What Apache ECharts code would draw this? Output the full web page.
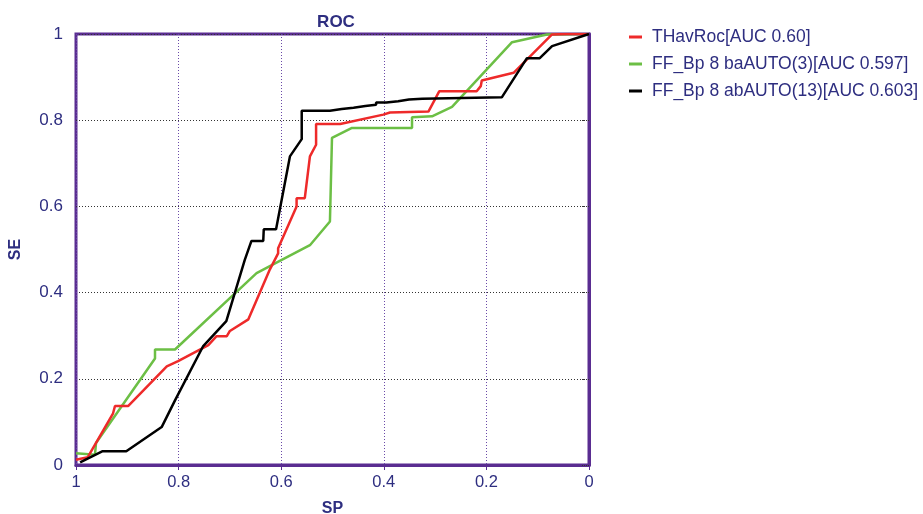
<!DOCTYPE html>
<html><head><meta charset="utf-8">
<script src="https://cdn.jsdelivr.net/npm/echarts@6/dist/echarts.min.js"></script>
<style>html,body{margin:0;padding:0;background:#fff}#c{width:923px;height:514px}</style>
</head><body><div id="c"></div>
<script>
const seriesNames = ["THavRoc[AUC 0.60]", "FF_Bp 8 baAUTO(3)[AUC 0.597]", "FF_Bp 8 abAUTO(13)[AUC 0.603]"];
const xTicks = [0, 0.2, 0.4, 0.6, 0.8, 1];
const yTicks = [0, 0.2, 0.4, 0.6, 0.8, 1];
// [SP, SE]
const redSP = [1.0,0.977,0.928,0.924,0.898,0.823,0.801,0.742,0.726,0.706,0.700,0.664,0.622,0.606,0.606,0.570,0.570,0.554,0.544,0.532,0.532,0.485,0.401,0.388,0.313,0.292,0.219,0.211,0.209,0.147,0.072,0.043,0.0];
const redSE = [0.012,0.018,0.119,0.137,0.137,0.229,0.241,0.278,0.299,0.299,0.311,0.338,0.454,0.491,0.503,0.600,0.619,0.619,0.716,0.743,0.791,0.791,0.813,0.818,0.820,0.867,0.867,0.879,0.892,0.910,0.999,1.0,1.0];
const greenSP = [1.0,0.963,0.961,0.846,0.846,0.807,0.648,0.599,0.544,0.505,0.501,0.462,0.345,0.345,0.306,0.267,0.150,0.082,0.0];
const greenSE = [0.027,0.024,0.051,0.247,0.268,0.268,0.445,0.476,0.510,0.565,0.759,0.782,0.782,0.807,0.809,0.831,0.981,0.999,1.0];
const blackSP = [0.992,0.948,0.902,0.833,0.807,0.752,0.707,0.671,0.658,0.635,0.634,0.610,0.583,0.560,0.560,0.505,0.505,0.482,0.482,0.459,0.459,0.436,0.436,0.415,0.415,0.395,0.395,0.372,0.372,0.351,0.351,0.325,0.325,0.170,0.121,0.096,0.072,0.0];
const blackSE = [0.006,0.032,0.032,0.088,0.150,0.276,0.334,0.476,0.520,0.520,0.547,0.547,0.716,0.756,0.822,0.822,0.826,0.826,0.829,0.829,0.833,0.833,0.836,0.836,0.841,0.841,0.844,0.844,0.848,0.848,0.850,0.850,0.853,0.853,0.944,0.944,0.972,1.0];
const colors = ["#ee2a2a", "#6cbf45", "#000000"];

function pairs(xs, ys){ return xs.map((x,i)=>[x, ys[i]]); }
const txt = "#2e2e80";
const ff = "Liberation Sans, Arial, sans-serif";
const chart = echarts.init(document.getElementById('c'), null, {renderer:'canvas'});
chart.setOption({
  animation: false,
  textStyle: {fontFamily: ff},
  title: {text: "ROC", left: 331, top: 9, textAlign: 'center',
    textStyle: {fontSize: 17, fontWeight: 'bold', color: txt, fontFamily: ff}},
  legend: {
    orient: 'vertical', left: 624, top: 23, itemGap: 9,
    itemWidth: 13, itemHeight: 3, icon: 'rect',
    textStyle: {fontSize: 17.5, color: txt, fontFamily: ff, padding: [0,0,0,5]},
    data: seriesNames
  },
  grid: {left: 76, right: 334, top: 34, bottom: 49, outerBoundsMode: 'none', containLabel: false,
    show: true, borderColor: '#5a2d91', borderWidth: 3, backgroundColor: 'transparent'},
  xAxis: {
    type: 'value', inverse: true, min: xTicks[0], max: xTicks[xTicks.length-1], interval: 0.2,
    name: "SP", nameLocation: 'middle', nameGap: 36,
    nameTextStyle: {fontSize: 16, fontWeight: 'bold', color: txt},
    axisLine: {show: true, lineStyle: {color: '#5a2d91', width: 3}},
    axisTick: {show: true, length: 5, lineStyle: {color: '#5a2d91'}},
    axisLabel: {fontSize: 16.5, color: txt, margin: 9, formatter: v => String(+v.toFixed(1))},
    splitLine: {show: true, lineStyle: {color: '#6a4aa8', type: [1,2], width: 1}}
  },
  yAxis: {
    type: 'value', min: yTicks[0], max: yTicks[yTicks.length-1], interval: 0.2,
    name: "SE", nameLocation: 'middle', nameGap: 52, nameRotate: 90,
    nameTextStyle: {fontSize: 16, fontWeight: 'bold', color: txt},
    axisLine: {show: true, lineStyle: {color: '#5a2d91', width: 3}},
    axisTick: {show: true, length: 7, lineStyle: {color: '#333', type: [1,1]}},
    axisLabel: {fontSize: 17, color: txt, margin: 13, formatter: v => String(+v.toFixed(1))},
    splitLine: {show: true, lineStyle: {color: '#333', type: [1,2], width: 1}}
  },
  series: [
    {name: seriesNames[0], type: 'line', data: pairs(redSP, redSE), showSymbol: false, symbol: 'none', lineStyle: {color: colors[0], width: 2.5}, itemStyle: {color: colors[0]}, z: 3},
    {name: seriesNames[1], type: 'line', data: pairs(greenSP, greenSE), showSymbol: false, symbol: 'none', lineStyle: {color: colors[1], width: 2.5}, itemStyle: {color: colors[1]}, z: 2},
    {name: seriesNames[2], type: 'line', data: pairs(blackSP, blackSE), showSymbol: false, symbol: 'none', lineStyle: {color: colors[2], width: 2.5}, itemStyle: {color: colors[2]}, z: 4}
  ]
});
</script></body></html>
